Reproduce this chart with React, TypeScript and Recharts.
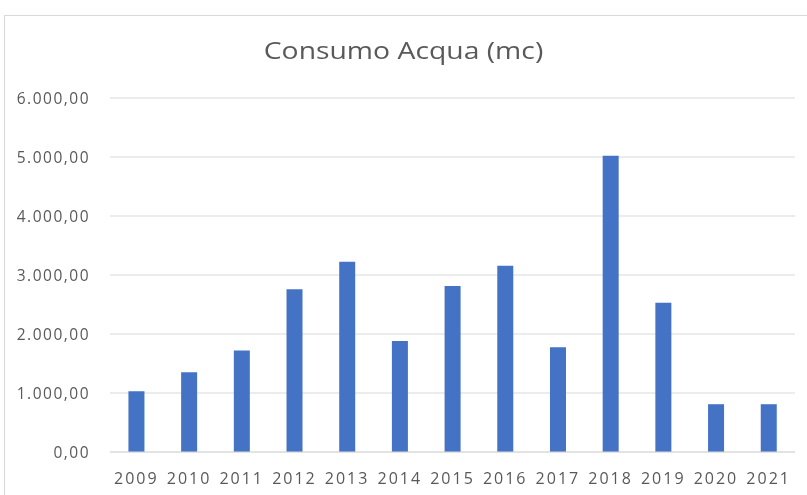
import { BarChart, Bar, XAxis, YAxis, CartesianGrid } from "recharts";

const YEARS = ["2009", "2010", "2011", "2012", "2013", "2014", "2015", "2016", "2017", "2018", "2019", "2020", "2021"];
const CONSUMO = [1030, 1350, 1720, 2760, 3225, 1880, 2815, 3155, 1775, 5020, 2530, 810, 810];
const Y_TICKS = [0, 1000, 2000, 3000, 4000, 5000, 6000];

const data = YEARS.map((year, i) => ({ year, consumo: CONSUMO[i] }));

// Italian number format: 6.000,00
function fmtIt(v: number): string {
  const [int, dec] = v.toFixed(2).split(".");
  return int.replace(/\B(?=(\d{3})+(?!\d))/g, ".") + "," + dec;
}

const FONT = "'Open Sans', sans-serif";
const TEXT = "#595959";

export default function App() {
  return (
    <div style={{ position: "fixed", left: 0, top: 0, width: 807, height: 495, background: "#fff", fontFamily: FONT }}>
      <div
        style={{
          position: "absolute",
          left: 4,
          top: 15,
          width: 810,
          height: 490,
          border: "1px solid #d9d9d9",
          boxSizing: "border-box",
        }}
      />
      <div
        style={{
          position: "absolute",
          left: 0,
          width: 807,
          top: 33,
          textAlign: "center",
          fontSize: 24,
          color: TEXT,
          transform: "scaleX(1.18)",
        }}
      >
        Consumo Acqua (mc)
      </div>
      <div style={{ position: "absolute", left: 0, top: 0 }}>
        <BarChart
          width={807}
          height={495}
          data={data}
          margin={{ top: 98, right: 12, bottom: 3, left: 0 }}
          barCategoryGap="35%"
        >
          <CartesianGrid vertical={false} stroke="#d9d9d9" />
          <XAxis
            dataKey="year"
            height={40}
            tick={{ fill: TEXT, fontSize: 16, letterSpacing: 2, fontFamily: FONT }}
            axisLine={{ stroke: "#d9d9d9" }}
            tickLine={false}
            tickMargin={15}
          />
          <YAxis
            domain={[0, 6000]}
            ticks={Y_TICKS}
            width={110}
            tick={{ fill: TEXT, fontSize: 15.5, letterSpacing: 1.5, fontFamily: FONT }}
            tickFormatter={fmtIt}
            axisLine={false}
            tickLine={false}
            tickMargin={14}
          />
          <Bar dataKey="consumo" fill="#4472C4" isAnimationActive={false} />
        </BarChart>
      </div>
    </div>
  );
}
